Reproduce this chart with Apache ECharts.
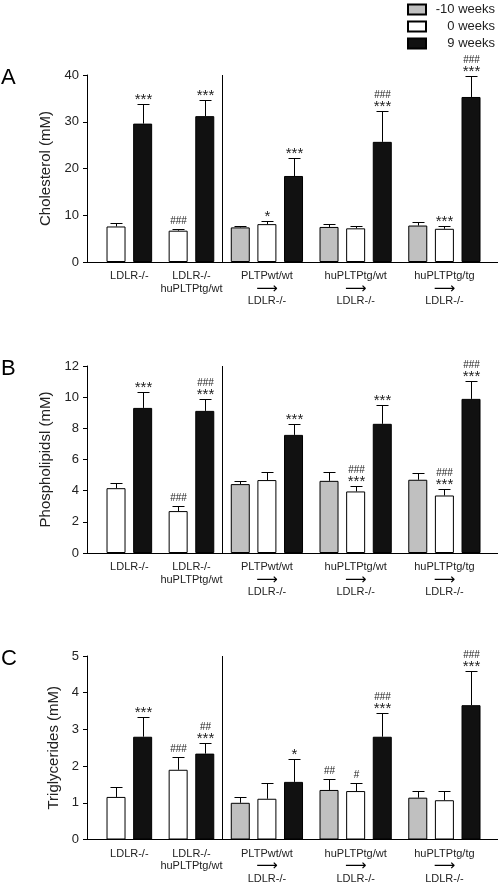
<!DOCTYPE html>
<html>
<head>
<meta charset="utf-8">
<script src="https://cdn.jsdelivr.net/npm/echarts@6/dist/echarts.min.js"></script>
<style>html,body{margin:0;padding:0;background:#fff}#c{width:498px;height:885px}</style>
</head>
<body>
<div id="c"></div>
<script>
// ---- data ----
const groupLabels = ['LDLR-/-', 'LDLR-/-\nhuPLTPtg/wt', 'PLTPwt/wt', 'huPLTPtg/wt', 'huPLTPtg/tg'];
const recipientLabels = [null, null, 'LDLR-/-', 'LDLR-/-', 'LDLR-/-'];
const timepoints = ['-10 weeks', '0 weeks', '9 weeks'];
const panelLetters = ['A', 'B', 'C'];
const yTitles = ['Cholesterol (mM)', 'Phospholipidsl (mM)', 'Triglycerides (mM)'];
const yMax = [40, 12, 5];
const yStep = [10, 2, 1];

const cholMean = [[null, 7.6, 29.6], [null, 6.7, 31.2], [7.4, 8.1, 18.4], [7.5, 7.2, 25.7], [7.8, 7.1, 35.3]];
const cholErr  = [[null, 0.8, 4.1], [null, 0.4, 3.5], [0.4, 0.6, 3.8], [0.6, 0.4, 6.7], [0.7, 0.7, 4.4]];
const cholSig  = [['', '', '***'], ['', '###', '***'], ['', '*', '***'], ['', '', '###\n***'], ['', '***', '###\n***']];

const phosMean = [[null, 4.16, 9.31], [null, 2.69, 9.12], [4.42, 4.68, 7.58], [4.63, 3.95, 8.29], [4.70, 3.69, 9.89]];
const phosErr  = [[null, 0.32, 1.0], [null, 0.34, 0.75], [0.21, 0.51, 0.68], [0.58, 0.34, 1.19], [0.45, 0.43, 1.13]];
const phosSig  = [['', '', '***'], ['', '###', '###\n***'], ['', '', '***'], ['', '###\n***', '***'], ['', '###\n***', '###\n***']];

const trigMean = [[null, 1.16, 2.80], [null, 1.90, 2.34], [1.00, 1.11, 1.57], [1.35, 1.32, 2.80], [1.14, 1.07, 3.66]];
const trigErr  = [[null, 0.27, 0.55], [null, 0.35, 0.29], [0.15, 0.43, 0.61], [0.29, 0.22, 0.65], [0.17, 0.24, 0.93]];
const trigSig  = [['', '', '***'], ['', '###', '##\n***'], ['', '', '*'], ['##', '#', '###\n***'], ['', '', '###\n***']];

// ---- layout (slot positions on the x scale) ----
const barSlots = [[null, 0, 3], [null, 7, 10], [14, 17, 20], [24, 27, 30], [34, 37, 40]];
const dividerAt = 12;
const xMin = -3.27, xMax = 43.04;
const gridTops = [75, 366, 656];
const gridHeight = 187;
const colors = ['#c0c0c0', '#ffffff', '#111111'];
const FONT = 'Liberation Sans, Arial, sans-serif';

const panels = [
  {mean: cholMean, err: cholErr, sig: cholSig},
  {mean: phosMean, err: phosErr, sig: phosSig},
  {mean: trigMean, err: trigErr, sig: trigSig}
];

const labelPos = barSlots.map(s => { const v = s.filter(x => x != null); return (v[0] + v[v.length - 1]) / 2; });

const grids = [], xAxes = [], yAxes = [], series = [], titles = [];
panels.forEach((p, pi) => {
  grids.push({left: 87, right: 0, top: gridTops[pi], height: gridHeight});
  titles.push({text: panelLetters[pi], left: -4, top: gridTops[pi] - 13,
    textStyle: {fontFamily: FONT, fontSize: 22, fontWeight: 'normal', color: '#000'}});
  xAxes.push({
    type: 'value', gridIndex: pi, min: xMin, max: xMax,
    splitLine: {show: false}, axisTick: {show: false},
    axisLine: {show: true, onZero: false, lineStyle: {color: '#000', width: 1}},
    axisLabel: {
      customValues: labelPos, margin: 8, color: '#222', fontFamily: FONT, fontSize: 11, lineHeight: 12.5,
      formatter: v => {
        const i = labelPos.indexOf(v);
        if (i < 0) return '';
        let t = groupLabels[i];
        if (recipientLabels[i]) t += '\n{arr|\u27F6}\n' + recipientLabels[i];
        return t;
      },
      rich: {arr: {fontSize: 15, lineHeight: 12.5, fontFamily: 'DejaVu Sans', color: '#000'}}
    }
  });
  yAxes.push({
    type: 'value', gridIndex: pi, min: 0, max: yMax[pi], interval: yStep[pi],
    splitLine: {show: false},
    axisLine: {show: true, onZero: false, lineStyle: {color: '#000', width: 1}},
    axisTick: {show: true, inside: false, length: 4, lineStyle: {color: '#000'}},
    axisLabel: {margin: 8, color: '#222', fontFamily: FONT, fontSize: 13},
    name: yTitles[pi], nameLocation: 'middle', nameGap: 19, nameRotate: 90,
    nameTextStyle: {fontFamily: FONT, fontSize: 15, color: '#222'}
  });
  timepoints.forEach((tp, si) => {
    const data = [];
    p.mean.forEach((g, gi) => { if (g[si] != null) data.push([barSlots[gi][si], g[si]]); });
    const s = {
      type: 'bar', name: tp, xAxisIndex: pi, yAxisIndex: pi, data: data,
      barWidth: 19, barGap: '-100%',
      itemStyle: {color: colors[si], borderColor: '#000', borderWidth: 1},
      silent: true, animation: false
    };
    if (si === 0) {
      s.markLine = {silent: true, symbol: 'none', label: {show: false},
        lineStyle: {color: '#000', width: 1, type: 'solid'}, data: [{xAxis: dividerAt}]};
    }
    series.push(s);
  });
  // error bars + significance marks
  const items = [], sigs = [];
  p.mean.forEach((g, gi) => g.forEach((m, si) => {
    if (m != null) { items.push([barSlots[gi][si], m, m + p.err[gi][si]]); sigs.push(p.sig[gi][si]); }
  }));
  series.push({
    type: 'custom', xAxisIndex: pi, yAxisIndex: pi, data: items, z: 5, silent: true, animation: false,
    encode: {x: 0, y: [1, 2]},
    renderItem: (params, api) => {
      const x = api.value(0), m = api.value(1), t = api.value(2);
      const a = api.coord([x, m]), b = api.coord([x, t]);
      const cx = Math.round(a[0]) + 0.5;
      const ty = Math.round(b[1]) + 0.5;
      const sig = sigs[params.dataIndex];
      const children = [
        {type: 'line', shape: {x1: cx, y1: a[1], x2: cx, y2: ty}, style: {stroke: '#000', lineWidth: 1}},
        {type: 'line', shape: {x1: cx - 6, y1: ty, x2: cx + 6, y2: ty}, style: {stroke: '#000', lineWidth: 1}}
      ];
      if (sig) {
        const lines = sig.split('\n').reverse();
        let bottom = ty - 5.5;
        lines.forEach(s => {
          const hash = s[0] === '#';
          const f = hash ? 10 : 15;
          const h = hash ? 0.70 * f * 0.75 : 0.30 * f;
          const c = bottom - h / 2;
          const yMid = hash ? c : c + 0.23 * f;
          children.push({type: 'text', x: cx, y: yMid, style: {
            text: s, align: 'center', verticalAlign: 'middle', fill: '#222',
            font: f + 'px ' + FONT
          }});
          bottom = c - h / 2 - 3.3;
        });
      }
      return {type: 'group', children: children};
    }
  });
});

const chart = echarts.init(document.getElementById('c'), null, {renderer: 'canvas'});
chart.setOption({
  animation: false,
  backgroundColor: '#fff',
  title: titles,
  legend: {
    data: timepoints, orient: 'vertical', right: 3, top: 3, padding: 0,
    itemWidth: 18, itemHeight: 10, itemGap: 4,
    icon: 'rect', selectedMode: false,
    formatter: n => '{r|' + n + '}',
    textStyle: {fontFamily: FONT, fontSize: 13, color: '#222', rich: {r: {width: 64, align: 'right', fontSize: 13, fontFamily: FONT}}}
  },
  grid: grids, xAxis: xAxes, yAxis: yAxes, series: series
});
</script>
</body>
</html>
